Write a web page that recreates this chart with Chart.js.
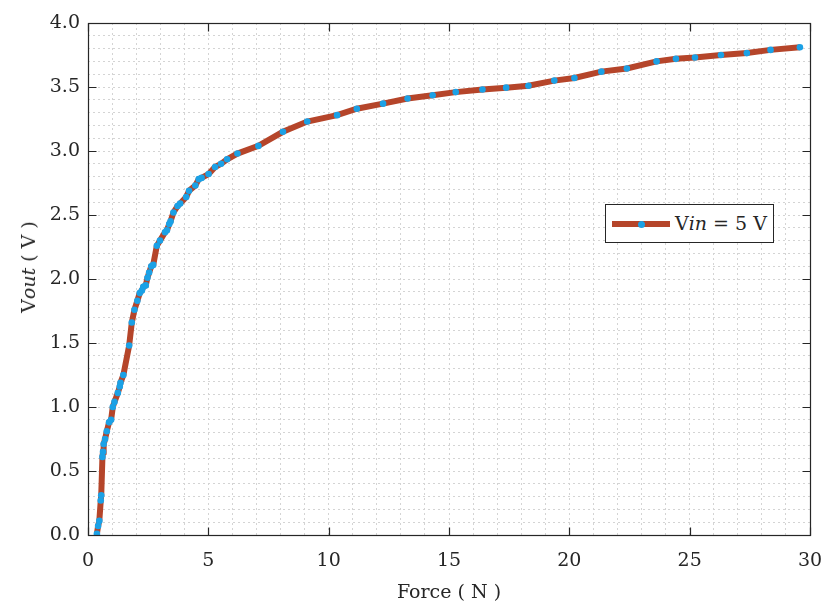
<!DOCTYPE html>
<html><head><meta charset="utf-8">
<script src="https://cdn.jsdelivr.net/npm/chart.js@4/dist/chart.umd.min.js"></script>
<style>
html,body{margin:0;padding:0;background:#fff;}
#wrap{position:relative;width:822px;height:604px;}
canvas{display:block;}
.ytitle{position:absolute;left:28px;top:267px;transform:translate(-50%,-50%) rotate(-90deg);font:19px "DejaVu Serif";color:#262626;white-space:nowrap;}
.legend{position:absolute;left:605px;top:204px;width:167px;height:37px;border:1px solid #262626;background:#fff;box-sizing:content-box;}
.legend .ln{position:absolute;left:6px;top:16px;width:58px;height:6px;background:#B5452A;}
.legend .dot{position:absolute;left:26px;top:-0.5px;width:7px;height:7px;border-radius:50%;background:#1BA1E6;}
.legend .tx{position:absolute;left:69px;top:7px;font:19px "DejaVu Serif";color:#262626;white-space:nowrap;}
</style></head>
<body>
<div id="wrap">
<canvas id="c" width="822" height="604"></canvas>
<div class="ytitle">V<i>out</i> ( V )</div>
<div class="legend"><div class="ln"><div class="dot"></div></div><div class="tx">V<i>in</i> = 5 V</div></div>
</div>
<script>
const forceN = [0.37,0.42,0.47,0.53,0.55,0.60,0.625,0.65,0.71,0.78,0.875,0.96,1.03,1.10,1.24,1.32,1.35,1.47,1.71,1.82,1.93,2.05,2.15,2.24,2.30,2.40,2.47,2.54,2.63,2.71,2.86,2.99,3.20,3.28,3.375,3.43,3.55,3.72,3.83,4.08,4.20,4.46,4.60,4.72,5.01,5.28,5.53,5.78,6.21,7.08,8.10,9.11,10.35,11.17,12.26,13.28,14.32,15.28,16.39,17.375,18.30,19.375,20.21,21.33,22.39,23.625,24.43,25.22,26.30,27.375,28.36,29.58];
const voutV = [0.01,0.07,0.11,0.27,0.31,0.61,0.65,0.71,0.75,0.81,0.88,0.90,1.00,1.04,1.11,1.16,1.19,1.25,1.48,1.66,1.76,1.83,1.89,1.91,1.94,1.95,2.01,2.05,2.10,2.11,2.26,2.30,2.365,2.38,2.43,2.45,2.52,2.57,2.59,2.64,2.69,2.73,2.78,2.79,2.82,2.875,2.90,2.935,2.98,3.04,3.15,3.23,3.28,3.33,3.37,3.41,3.435,3.46,3.48,3.495,3.51,3.55,3.57,3.62,3.645,3.70,3.72,3.73,3.75,3.765,3.79,3.81];
const xTickLabels = ['0','5','10','15','20','25','30'];
const yTickLabels = ['0.0','0.5','1.0','1.5','2.0','2.5','3.0','3.5','4.0'];
const seriesLabel = 'Vin = 5 V';
const xTitle = 'Force ( N )';

const FONT = {family:'"DejaVu Serif"', size:19};
const INK = '#262626';
const GRID = '#d4d4d4';

const frame = {
  id:'frame',
  afterDraw(chart){
    const {ctx, chartArea:a, scales:{x,y}} = chart;
    ctx.save();
    ctx.strokeStyle = INK; ctx.lineWidth = 1.2;
    const L = Math.round(a.left)+0.5, R = Math.round(a.right)+0.5, T = Math.round(a.top)+0.5, B = Math.round(a.bottom)+0.5;
    ctx.strokeRect(L, T, R-L, B-T);
    const tl = 8;
    ctx.beginPath();
    xTickLabels.forEach(s=>{
      const px = Math.round(x.getPixelForValue(parseFloat(s)))+0.5;
      ctx.moveTo(px,B); ctx.lineTo(px,B-tl);
      ctx.moveTo(px,T); ctx.lineTo(px,T+tl);
    });
    yTickLabels.forEach(s=>{
      const py = Math.round(y.getPixelForValue(parseFloat(s)))+0.5;
      ctx.moveTo(L,py); ctx.lineTo(L+tl,py);
      ctx.moveTo(R,py); ctx.lineTo(R-tl,py);
    });
    ctx.stroke();
    ctx.restore();
  }
};

new Chart(document.getElementById('c'), {
  type:'scatter',
  data:{datasets:[{
    label: seriesLabel,
    data: forceN.map((f,i)=>({x:f, y:voutV[i]})),
    showLine:true,
    borderColor:'#B5452A',
    borderWidth:6,
    tension:0,
    pointRadius:3.3,
    pointBorderWidth:0,
    pointBackgroundColor:'#1BA1E6',
    pointBorderColor:'#1BA1E6'
  }]},
  options:{
    responsive:false,
    animation:false,
    devicePixelRatio:1,
    layout:{padding:{top:23,right:12,left:0,bottom:0}},
    plugins:{legend:{display:false},tooltip:{enabled:false}},
    scales:{
      x:{
        type:'linear', min:0, max:30,
        afterFit(s){ s.height = 69; s.paddingLeft = 0; s.paddingRight = 0; },
        border:{display:false, dash:[2,3]},
        grid:{color:GRID, lineWidth:1, drawTicks:false},
        ticks:{stepSize:1, autoSkip:false, maxRotation:0, maxTicksLimit:100, padding:15, color:INK, font:FONT,
          callback(v){ const k = v/5; return Number.isInteger(k) && xTickLabels[k]!==undefined ? xTickLabels[k] : ''; }},
        title:{display:true, text:xTitle, color:INK, font:FONT, padding:{top:0,bottom:0}}
      },
      y:{
        type:'linear', min:0, max:4,
        afterFit(s){ s.width = 88; s.paddingTop = 0; s.paddingBottom = 0; },
        border:{display:false, dash:[2,3]},
        grid:{color:GRID, lineWidth:1, drawTicks:false},
        ticks:{stepSize:0.1, autoSkip:false, maxTicksLimit:100, padding:8, color:INK, font:FONT,
          callback(v){ const k = Math.round(v*2); return Math.abs(v*2-k)<1e-6 ? yTickLabels[k] : ''; }}
      }
    }
  },
  plugins:[frame]
});
</script>
</body></html>
